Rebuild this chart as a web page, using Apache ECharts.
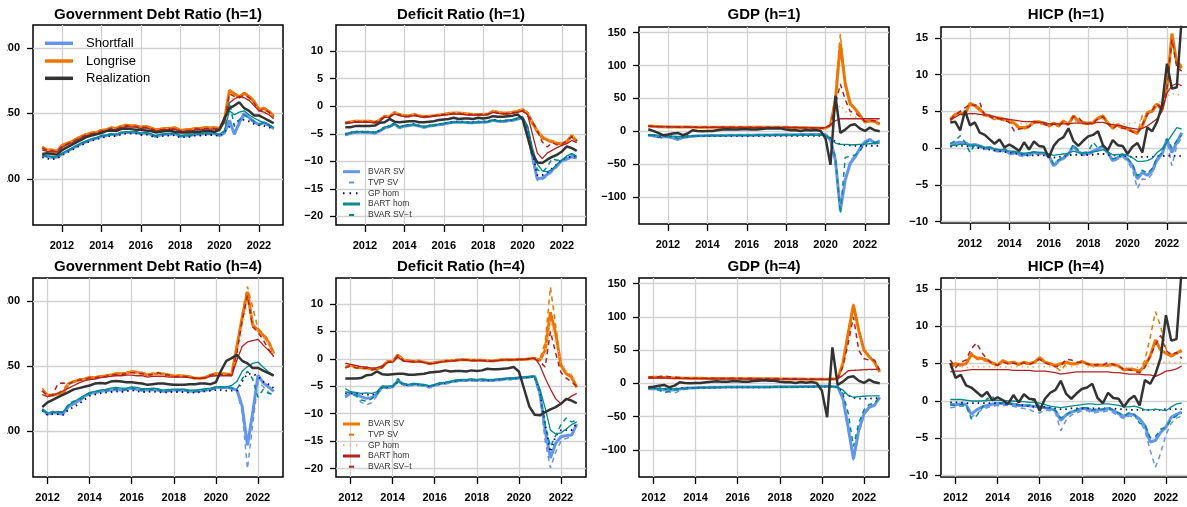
<!DOCTYPE html>
<html>
<head>
<meta charset="utf-8">
<script src="https://cdn.jsdelivr.net/npm/echarts@6/dist/echarts.min.js"></script>
<style>
html, body { margin: 0; padding: 0; background: #fff; overflow: hidden; width: 1187px; height: 507px; }
#frame { position: absolute; left: 7px; top: 0; width: 1180px; height: 507px; overflow: hidden; }
#chart { position: absolute; left: -14px; top: 0; width: 1204px; height: 507px; }
</style>
</head>
<body>
<div id="frame"><div id="chart"></div></div>
<script>
// Quarterly paths. h=1 panels run 2011Q1-2022Q4 (48 quarters), h=4 panels 2011Q4-2022Q4 (45 quarters).
const START_H1 = 2011;
const START_H4 = 2011.75;
const YEAR_TICKS = [2012, 2014, 2016, 2018, 2020, 2022];
const DEBT_TICKS = [100, 150, 200];
const DEFICIT_TICKS = [-20, -15, -10, -5, 0, 5, 10];
const GDP_TICKS = [-100, -50, 0, 50, 100, 150];
const HICP_TICKS = [-10, -5, 0, 5, 10, 15];
const MODELS = ['BVAR SV', 'TVP SV', 'GP hom', 'BART hom', 'BVAR SV\u2212t'];
const TITLES = ['Government Debt Ratio (h=1)', 'Deficit Ratio (h=1)', 'GDP (h=1)', 'HICP (h=1)',
                'Government Debt Ratio (h=4)', 'Deficit Ratio (h=4)', 'GDP (h=4)', 'HICP (h=4)'];

// realized values, 2011Q1-2022Q4
const DEBT_REAL = [119,119.5,119,118.5, 122,124,126,128, 130,132,133,134, 135,136.5,137,136.5, 138,138.5,138,137.5, 137.5,137,136.5,135.5, 136,136.5,136.5,136, 135.5,135.5,135.5,136, 136,136.5,136.5,136, 137.5,146.5,154,156, 158.5,154,152,148.5, 148.5,146.5,144.5,142.5];
const DEFICIT_REAL = [-3.8,-3.8,-3.6,-3.6, -3.6,-3.6,-3.5,-3.0, -2.9,-2.3,-2.8,-2.9, -2.8,-2.7,-2.7,-2.9, -2.9,-2.8,-2.7,-2.5, -2.4,-2.3,-2.1,-2.3, -2.2,-2.2,-2.3,-2.1, -2.2,-2.1,-1.8,-1.9, -1.9,-1.8,-1.7,-1.5, -2.3,-5.5,-8.7,-10.2, -10.3,-9.7,-9.2,-8.8, -8.2,-7.3,-7.6,-8.1];
const GDP_REAL = [3,0.5,-2.5,-6, -5,-3.5,-2.5,-6, -3.5,1.5,0.5,0, 0.5,0.5,1.5,2.5, 3,2.5,2.5,3, 3,2.5,2.5,3.5, 4,4.5,4,4, 2.5,1.5,1.5,0.5, 2,1,2,0.5, -11,-51,54,-2.5, 2.5,9,10.5,4, 0.5,5.5,1.5,0];
const HICP_REAL = [3.5,3.6,2.4,5.1, 3.1,3.5,2.1,1.8, 1.2,0.6,1.2,0.1, 0.5,0.1,-0.4,0.8, -0.2,0.9,0.3,0.2, -1.3,0.3,1.1,1.5, 2.7,1.0,0.3,1.0, 1.6,1.8,2.3,0.4, -0.3,1.1,0.4,0.3, -0.8,0.2,0.7,-0.6, 2.8,2.3,3.6,5.8, 11.5,8.1,8.3,17.8];

// Government debt ratio, h=1 (sf = shortfall, lr = longrise)
const DEBT_H1_SF_BVAR = [118,117,116.5,116.5, 119,121,123,125, 127,128.5,130,131, 132.5,133,134,133.5, 135,135.5,135.5,135.5, 134.5,135,134,132.5, 133.5,134,134,134.5, 132.5,133,133,134, 134,134.5,134.5,134.5, 133,135,144.5,134, 143,150,147,143.5, 141.5,143,141,138.5];
const DEBT_H1_SF_TVP = [118.5,117.5,116,117, 119.5,121.5,123.5,125.5, 127.5,129,130.5,131.5, 133,133.5,134.5,134, 135.5,136,136,136, 135,135.5,134.5,133, 134,134.5,134.5,135, 133,133.5,133.5,134.5, 134.5,135,135,135, 133.5,136,146,136, 141,148,146,143, 141,142.5,140.5,138];
const DEBT_H1_SF_GP = [116.5,115.5,115,115.5, 118,120,122,124, 126,127.5,129,130, 131.5,132,133,132.5, 134,134.5,134.5,134.5, 133.5,134,133,131.5, 132.5,133,133,133.5, 131.5,132,132,133, 133,133.5,133.5,133.5, 132.5,136,140,142, 145,145,144,142, 141,140.5,139.5,138];
const DEBT_H1_SF_BART = [118.5,117.5,117,117, 119.5,121.5,123.5,125.5, 127.5,129,130.5,131.5, 133,133.5,134.5,134, 135.5,136,136,136, 135,135.5,134.5,133, 134,134.5,134.5,135, 133,133.5,133.5,134.5, 134.5,135,135,135, 134,137,152,149, 151,152,149,146.5, 144.5,143,141.5,139];
const DEBT_H1_SF_SVT = [118,117,116.5,117, 119,121,123,125, 127,128.5,130,131, 132.5,133,134,133.5, 135,135.5,135.5,135.5, 134.5,135,134,132.5, 133.5,134,134,134.5, 132.5,133,133,134, 134,134.5,134.5,134.5, 133.5,136,159,140, 145,149,146,144, 142,142.5,141,139];
const DEBT_H1_LR_BVAR = [124,122,122,121, 125.5,127,128.5,130.5, 132.5,134,135,135.5, 137,137.5,139,138.5, 140,141,140.5,140.5, 139.5,140,139,137.5, 138,138.5,138.5,139, 137,137.5,137.5,138.5, 138.5,139,139,139, 138.5,145,167.5,165, 162.5,165.5,163,159, 153,154,151.5,148];
const DEBT_H1_LR_TVP = [124.5,122.5,122.5,121.5, 126,127.5,129,131, 133,134.5,135.5,136, 137.5,138,139.5,139, 140.5,141.5,141,141, 140,140.5,139.5,138, 138.5,139,139,139.5, 137.5,138,138,139, 139,139.5,139.5,139.5, 139,146,168,166, 163,166,164,160, 153.5,154.5,152,148.5];
const DEBT_H1_LR_GP = [123,121.5,121.5,120.5, 125,126.5,128,130, 132,133.5,134.5,135, 136.5,137,138.5,138, 139.5,140.5,140,140, 139,139.5,138.5,137, 137.5,138,138,138.5, 136.5,137,137,138, 138,138.5,138.5,138.5, 138,143,160,162, 162,162,160,157, 152.5,152,150,147.5];
const DEBT_H1_LR_BART = [122,121,120.5,120.5, 124,126,127.5,129.5, 131.5,133,134,134.5, 136,136.5,138,137.5, 139,140,139.5,139.5, 138.5,139,138,136.5, 137,137.5,137.5,138, 136,136.5,136.5,137.5, 137.5,138,138,138, 137.5,143,158,161, 163,162,160,156, 152,151,149,146];
const DEBT_H1_LR_SVT = [123.5,121.5,121.5,120.5, 125,126.5,128,130, 132,133.5,134.5,135, 136.5,137,138.5,138, 139.5,140.5,140,140, 139,139.5,138.5,137, 137.5,138,138,138.5, 136.5,137,137,138, 138,138.5,138.5,138.5, 138,144,165,163, 162,164,162,158, 152,153,151,147];

// Government debt ratio, h=4
const DEBT_H4_SF_BVAR = [116.5, 113,114,114,113.7, 119,121,123.5,126.5, 129,129.5,130.5,131, 131.5,132,131.5,132, 133,132,131.5,131.5, 132,131.5,130.5,131, 131.5,131.5,131.5,130.5, 130.5,131,131.5,132, 133.5,133.5,133.5,133, 131.5,119,89,114, 143,137,134,130.5];
const DEBT_H4_SF_TVP = [117, 113.5,114.5,113,112.5, 118,120.5,123,126, 128.5,129,130,130.5, 131,131.5,131,131.5, 132.5,131.5,131,131, 131.5,131,130,130.5, 131,131,131,130, 130,130.5,131,131.5, 133,133,133,132.5, 131,115,71,105, 138,134,130,127];
const DEBT_H4_SF_GP = [116, 112.5,113,113,112.5, 116.5,118.5,121,124, 127,128,129,129.5, 130,130.5,130,130.5, 131.5,130.5,130,130, 130.5,130,129.5,130, 130,130,130,129.5, 129.5,130,130.5,131, 131.5,131.5,131,131, 131,138,144,144, 142,138,136,133];
const DEBT_H4_SF_BART = [117, 114,114.5,115,115, 120,122.5,125,127.5, 129.5,130.5,131.5,132, 133,133.5,133,133, 134,133.5,132.5,132.5, 133,132.5,131.5,132, 132,132,132,131.5, 131.5,132,132.5,133, 134,134,134,135, 138,146,149.5,152, 153,149,145.5,143];
const DEBT_H4_SF_SVT = [116.5, 113.5,115,114.5,114, 121,123,124,126, 129,130,131,131.5, 131.5,132.5,131.5,132, 133,132,131.5,131.5, 132,131.5,130.5,131, 131.5,131.5,131.5,130.5, 130.5,131,131.5,132, 133.5,133.5,133.5,133, 132,140,146,140, 126,132,129,128];
const DEBT_H4_LR_BVAR = [131.5, 127.5,127.5,128.5,129, 136.5,138,139.3,139.8, 141.3,141,141.8,142.3, 143,144,144,144.4, 145.7,145,144.4,143, 143.8,143.8,143.8,143, 142.3,142.3,142.3,141.8, 140.5,140.5,141,143, 144,144,143.8,143, 165,187,207,181.5, 177.5,173.5,168.5,159.5];
const DEBT_H4_LR_TVP = [133, 128,128,129,132, 137,138.5,140,140.5, 141.5,141.5,142.5,143, 143.5,144.5,144.5,145, 146,145.5,145,143.5, 144.5,144.5,144,143.5, 142.5,143,142.5,142, 141,141,141.5,143.5, 144.5,144.5,144,143.5, 166,190,211,195, 179,175,170,160.5];
const DEBT_H4_LR_GP = [131, 127,127,128,128.5, 136,137.5,139,139.5, 141,140.5,141.5,142, 142.5,143.5,143.5,144, 145.3,144.5,144,142.5, 143.5,143.5,143.5,142.5, 142,142,142,141.5, 140,140,140.5,142.5, 143.5,143.5,143.5,142.5, 158,180,200,184, 176,172,167,159];
const DEBT_H4_LR_BART = [128, 126.5,127.5,129,131, 133,135,137,138.5, 139.5,140,141,141.5, 142,142.5,142.5,143, 143,142.5,142.5,141.5, 142,142,142,141.5, 141.5,141.5,141.5,141, 140.5,140.5,141,142, 142.5,142.5,142.5,142.5, 154.5,165,168.5,169.5, 170.5,166,162,157.5];
const DEBT_H4_LR_SVT = [131, 127,128,136.5,137, 136,138,139,139.5, 141,141,141.5,142, 143,143.5,143.5,144, 145,144.5,144,143, 143.5,145,143.5,143, 142,142,142,141.5, 140.5,140.5,141,143, 143.5,143.5,143.5,143, 160,185,204,180, 176,170,163,157];

// Deficit ratio, h=1
const DEFICIT_H1_SF_BVAR = [-5.2,-4.9,-4.7,-4.7, -4.7,-4.75,-4.85,-4.5, -3.9,-3.7,-3.2,-3.9, -3.6,-3.5,-3.35,-3.6, -3.8,-3.6,-3.5,-3.35, -3.2,-3.05,-2.9,-2.9, -2.9,-3.0,-3.0,-2.9, -2.9,-2.8,-2.55,-2.7, -2.75,-2.65,-2.55,-2.3, -2.1,-4.2,-9.1,-13.2, -13.0,-12.4,-11.6,-10.8, -9.8,-9.6,-9.1,-9.4];
const DEFICIT_H1_SF_TVP = [-5.3,-5.0,-4.8,-4.8, -4.8,-4.85,-4.95,-4.6, -4.0,-3.8,-3.3,-4.0, -3.7,-3.6,-3.45,-3.7, -3.9,-3.7,-3.6,-3.45, -3.3,-3.15,-3.0,-3.0, -3.0,-3.1,-3.1,-3.0, -3.0,-2.9,-2.65,-2.8, -2.85,-2.75,-2.65,-2.4, -2.2,-4.5,-9.6,-13.5, -13.3,-12.7,-11.9,-11.0, -10.0,-9.8,-9.3,-9.6];
const DEFICIT_H1_SF_GP = [-5.0,-4.8,-4.6,-4.6, -4.6,-4.6,-4.7,-4.4, -3.8,-3.6,-3.1,-3.8, -3.5,-3.4,-3.25,-3.5, -3.7,-3.5,-3.4,-3.25, -3.1,-2.95,-2.8,-2.8, -2.8,-2.9,-2.9,-2.8, -2.8,-2.7,-2.45,-2.6, -2.65,-2.55,-2.45,-2.2, -2.0,-4.0,-8.5,-12.5, -12.5,-12.0,-11.3,-10.5, -9.6,-9.4,-9.0,-9.2];
const DEFICIT_H1_SF_BART = [-5.0,-4.8,-4.6,-4.6, -4.6,-4.65,-4.75,-4.4, -3.8,-3.6,-3.2,-3.7, -3.5,-3.4,-3.3,-3.5, -3.7,-3.5,-3.4,-3.3, -3.1,-3.0,-2.9,-2.9, -2.9,-2.95,-2.95,-2.85, -2.85,-2.75,-2.5,-2.6, -2.6,-2.5,-2.4,-2.1, -2.0,-3.5,-7.5,-10.5, -11.7,-11.9,-11.5,-10.5, -9.8,-9.0,-8.6,-9.1];
const DEFICIT_H1_SF_SVT = [-5.1,-4.9,-4.7,-4.7, -4.7,-4.7,-4.8,-4.5, -3.9,-3.7,-3.3,-3.8, -3.6,-3.5,-3.4,-3.6, -3.8,-3.6,-3.5,-3.3, -3.2,-3.0,-2.9,-2.9, -2.9,-3.0,-3.0,-2.9, -2.9,-2.8,-2.6,-2.7, -2.7,-2.6,-2.5,-2.2, -2.0,-3.8,-8.0,-11.5, -12.0,-11.0,-9.5,-9.8, -9.7,-9.2,-8.6,-9.2];
const DEFICIT_H1_LR_BVAR = [-3.0,-2.85,-2.7,-2.7, -2.7,-2.7,-2.9,-2.5, -1.8,-1.9,-1.1,-1.5, -1.7,-1.7,-1.5,-1.7, -1.9,-1.8,-1.7,-1.6, -1.5,-1.3,-1.2,-1.2, -1.3,-1.4,-1.5,-1.5, -1.5,-1.4,-0.9,-1.1, -1.2,-1.2,-1.1,-0.9, -0.6,-1.2,-3.0,-4.5, -5.6,-6.1,-6.4,-6.7, -6.8,-6.4,-5.3,-6.4];
const DEFICIT_H1_LR_TVP = [-3.1,-2.9,-2.8,-2.8, -2.8,-2.8,-3.0,-2.6, -1.9,-2.0,-1.2,-1.6, -1.8,-1.8,-1.6,-1.8, -2.0,-1.9,-1.8,-1.7, -1.6,-1.4,-1.3,-1.3, -1.4,-1.5,-1.6,-1.6, -1.6,-1.5,-1.0,-1.2, -1.3,-1.3,-1.2,-1.0, -0.7,-1.4,-3.3,-4.8, -5.9,-6.3,-6.6,-6.9, -7.0,-6.5,-5.5,-6.6];
const DEFICIT_H1_LR_GP = [-2.9,-2.8,-2.6,-2.6, -2.6,-2.6,-2.8,-2.4, -1.7,-1.8,-1.0,-1.4, -1.6,-1.6,-1.4,-1.6, -1.8,-1.7,-1.6,-1.5, -1.4,-1.2,-1.1,-1.1, -1.2,-1.3,-1.4,-1.4, -1.4,-1.3,-0.8,-1.0, -1.1,-1.1,-1.0,-0.8, -0.5,-1.0,-2.7,-4.2, -5.3,-5.8,-6.2,-6.5, -6.6,-6.2,-5.2,-6.2];
const DEFICIT_H1_LR_BART = [-3.2,-3.0,-2.9,-2.9, -2.9,-2.9,-3.0,-2.7, -2.0,-2.0,-1.4,-1.7, -1.9,-1.9,-1.7,-1.9, -2.0,-1.9,-1.8,-1.7, -1.6,-1.5,-1.4,-1.4, -1.5,-1.6,-1.6,-1.6, -1.6,-1.5,-1.1,-1.3, -1.4,-1.4,-1.3,-1.1, -0.9,-1.5,-5.0,-8.5, -9.5,-8.5,-8.0,-7.5, -7.1,-6.8,-6.2,-6.6];
const DEFICIT_H1_LR_SVT = [-3.0,-2.9,-2.8,-2.8, -2.8,-2.8,-2.9,-2.5, -1.9,-1.9,-1.3,-1.6, -1.8,-1.8,-1.6,-1.8, -1.9,-1.8,-1.7,-1.6, -1.5,-1.4,-1.3,-1.3, -1.4,-1.5,-1.5,-1.5, -1.5,-1.4,-1.0,-1.2, -1.3,-1.3,-1.2,-1.0, -0.8,-1.6,-2.8,-4.5, -6.5,-7.4,-6.6,-7.0, -6.9,-6.2,-5.5,-6.3];

// Deficit ratio, h=4
const DEFICIT_H4_SF_BVAR = [-6.9, -6.2,-6.4,-6.9,-7.2, -7.1,-6.4,-5.1,-5.2, -5.1,-4.0,-4.6,-4.8, -4.6,-4.7,-4.8,-5.1, -4.8,-4.5,-4.4,-4.2, -4.0,-3.9,-3.9,-3.8, -3.9,-3.8,-3.9,-3.9, -3.8,-3.7,-3.6,-3.6, -3.45,-3.4,-3.3,-3.15, -6.3,-13.0,-18.1,-15.4, -14.2,-14.0,-13.9,-11.9];
const DEFICIT_H4_SF_TVP = [-7.1, -6.4,-6.8,-7.9,-8.4, -8.0,-6.8,-5.3,-5.4, -5.2,-4.2,-4.8,-5.0, -4.8,-4.9,-5.0,-5.3, -5.0,-4.7,-4.6,-4.4, -4.2,-4.1,-4.1,-4.0, -4.1,-4.0,-4.1,-4.1, -4.0,-3.9,-3.8,-3.8, -3.6,-3.5,-3.4,-3.3, -7.0,-15.0,-19.9,-17.0, -15.0,-14.5,-14.2,-12.3];
const DEFICIT_H4_SF_GP = [-6.3, -6.3,-6.3,-6.4,-6.5, -6.6,-6.2,-5.2,-5.2, -5.0,-4.2,-4.6,-4.8, -4.6,-4.7,-4.8,-5.0, -4.8,-4.5,-4.4,-4.2, -4.0,-3.9,-3.9,-3.8, -3.9,-3.8,-3.9,-3.9, -3.8,-3.7,-3.6,-3.6, -3.5,-3.4,-3.3,-3.2, -6.0,-12.0,-17.0,-14.0, -13.0,-13.0,-13.0,-11.8];
const DEFICIT_H4_SF_BART = [-5.4, -6.0,-6.1,-6.3,-6.2, -6.3,-6.0,-5.0,-5.0, -5.0,-4.1,-4.5,-4.7, -4.5,-4.6,-4.7,-4.9, -4.7,-4.4,-4.3,-4.1, -3.9,-3.8,-3.8,-3.7, -3.8,-3.7,-3.8,-3.8, -3.7,-3.6,-3.5,-3.5, -3.4,-3.3,-3.2,-3.2, -5.5,-9.0,-13.0,-13.7, -13.5,-12.8,-12.0,-11.5];
const DEFICIT_H4_SF_SVT = [-6.0, -6.2,-6.6,-7.5,-7.7, -7.3,-6.5,-5.2,-5.3, -5.0,-3.6,-4.5,-4.8, -4.6,-4.7,-4.8,-5.0, -4.8,-4.5,-4.4,-4.2, -4.0,-3.9,-3.9,-3.8, -3.9,-3.8,-3.9,-3.9, -3.8,-3.7,-3.6,-3.6, -3.5,-3.4,-3.3,-3.2, -6.0,-12.0,-16.0,-14.0, -12.0,-10.8,-11.5,-11.2];
const DEFICIT_H4_LR_BVAR = [-1.5, -1.15,-1.5,-1.6,-1.6, -1.9,-1.8,-1.5,-0.5, -0.5,0.7,-0.2,-0.35, -0.5,-0.4,-0.6,-0.85, -0.7,-0.55,-0.4,-0.35, -0.25,-0.15,-0.15,-0.25, -0.25,-0.25,-0.35,-0.4, -0.25,-0.15,-0.15,-0.15, -0.05,-0.1,0,0.05, -0.25,1.6,8.5,4.6, -1.15,-2.7,-3.3,-5.2];
const DEFICIT_H4_LR_TVP = [-1.7, -1.3,-1.7,-1.8,-1.8, -2.0,-1.9,-1.6,-0.6, -0.4,0.9,-0.1,-0.3, -0.5,-0.4,-0.6,-0.9, -0.7,-0.5,-0.4,-0.3, -0.2,-0.1,-0.1,-0.2, -0.2,-0.2,-0.3,-0.4, -0.2,-0.1,-0.1,-0.1, 0,-0.1,0.1,0.1, 0,3.0,13.1,6.0, -1.0,-2.5,-3.0,-5.0];
const DEFICIT_H4_LR_GP = [-1.4, -1.1,-1.4,-1.5,-1.5, -1.8,-1.7,-1.4,-0.4, -0.4,0.5,-0.2,-0.3, -0.4,-0.4,-0.5,-0.8, -0.6,-0.5,-0.4,-0.3, -0.2,-0.1,-0.1,-0.2, -0.2,-0.2,-0.3,-0.3, -0.2,-0.1,-0.1,-0.1, 0,0,0,0.1, -0.2,1.0,7.0,3.0, -0.5,-2.2,-2.8,-4.5];
const DEFICIT_H4_LR_BART = [-0.8, -1.0,-1.2,-1.4,-1.5, -1.7,-1.6,-1.3,-0.7, -0.6,0.3,-0.4,-0.5, -0.6,-0.5,-0.7,-0.9, -0.8,-0.6,-0.5,-0.4, -0.3,-0.2,-0.2,-0.3, -0.3,-0.3,-0.4,-0.4, -0.3,-0.2,-0.2,-0.2, -0.1,-0.1,0,0.2, -1.2,-3.5,-5.5,-7.3, -8.2,-7.5,-6.8,-6.3];
const DEFICIT_H4_LR_SVT = [-1.6, -1.3,-1.6,-1.7,-1.7, -2.0,-1.8,-1.6,-0.6, -0.5,0.6,-0.3,-0.4, -0.5,-0.5,-0.6,-0.9, -0.7,-0.6,-0.4,-0.4, -0.3,-0.2,-0.2,-0.3, -0.3,-0.3,-0.4,-0.4, -0.3,-0.2,-0.2,-0.2, -0.1,-0.1,0,0, -0.5,-1.5,5.0,1.0, -2.5,-3.5,-4.2,-5.0];

// GDP, h=1
const GDP_H1_SF_BVAR = [-6,-7,-8.5,-8.5, -8.5,-10,-12.5,-9.5, -8.5,-7.5,-7,-6.8, -6.6,-6.5,-6.3,-6.3, -6.2,-6.1,-6,-6, -6,-5.9,-5.8,-5.8, -5.7,-5.6,-5.5,-5.5, -5.5,-5.3,-5.2,-5.1, -5,-5,-5,-5, -5,-13.5,-44,-120, -74,-49,-39,-26, -16,-12.5,-18.5,-14.5];
const GDP_H1_SF_TVP = [-6.5,-7.5,-9,-9, -9,-10.5,-13,-10, -9,-8,-7.5,-7.3, -7,-7,-6.8,-6.8, -6.7,-6.6,-6.5,-6.5, -6.5,-6.4,-6.3,-6.3, -6.2,-6.1,-6,-6, -6,-5.8,-5.7,-5.6, -5.5,-5.5,-5.5,-5.5, -5.5,-15,-50,-125, -70,-45,-37,-25, -15,-12,-19,-15];
const GDP_H1_SF_GP = [-5.5,-6,-7,-7.5, -7.5,-8,-9,-8.5, -8,-7.5,-7,-7, -7,-7,-7,-7, -7,-7,-7,-7, -7,-7,-7,-7, -7,-7,-7,-7, -7,-7,-7,-7, -7,-7,-7,-7, -7,-10,-16,-20, -21,-21.5,-22,-22, -22,-22,-22,-22];
const GDP_H1_SF_BART = [-5,-5.5,-6,-6.5, -7,-7.5,-8,-8, -7.5,-7.5,-7,-7, -6.8,-6.7,-6.6,-6.5, -6.5,-6.4,-6.4,-6.3, -6.3,-6.2,-6.2,-6.1, -6.1,-6,-6,-6, -6,-6,-5.9,-5.9, -5.9,-5.9,-5.9,-6, -6,-12,-18,-20, -20,-20.5,-20.5,-20, -19.5,-19,-18.5,-18];
const GDP_H1_SF_SVT = [-6,-6.5,-9,-10, -8,-9,-11,-9, -8,-7.5,-7,-6.8, -6.6,-6.5,-6.3,-6.3, -6.2,-6.1,-6,-6, -6,-5.9,-5.8,-5.8, -5.7,-5.6,-5.5,-5.5, -5.5,-5.3,-5.2,-5.1, -5,-5,-5,-5, -5,-12,-40,-125, -40,-38,-36,-30, -18,-14,-17,-15];
const GDP_H1_LR_BVAR = [8,7.5,7,7, 6.6,6.6,6.5,6.5, 6.5,6.3,6.2,6.2, 6,6,6,6, 6,6,6,6, 6,6,6,6, 6,6,6,6, 6,5.8,5.6,5.4, 5.2,5,4.8,4.5, 5,9,47,133, 72,42,34,24, 14,16,15,10.5];
const GDP_H1_LR_TVP = [8.5,8,7.5,7.5, 7,7,7,7, 7,6.8,6.7,6.7, 6.5,6.5,6.5,6.5, 6.5,6.5,6.5,6.5, 6.5,6.5,6.5,6.5, 6.5,6.5,6.5,6.5, 6.5,6.3,6.1,5.9, 5.7,5.5,5.3,5, 5.5,10,55,148, 68,40,33,23, 14,15,15,11];
const GDP_H1_LR_GP = [7,7,6.8,6.8, 6.5,6.5,6.5,6.5, 6.4,6.3,6.2,6.2, 6,6,6,6, 6,6,6,6, 6,6,6,6, 6,6,6,6, 6,5.8,5.6,5.4, 5.2,5,4.8,4.5, 5,8,30,40, 30,25,22,20, 18,17,17,16];
const GDP_H1_LR_BART = [7.5,7.2,7,6.8, 6.6,6.5,6.4,6.3, 6.2,6.1,6,6, 5.9,5.8,5.8,5.7, 5.7,5.6,5.6,5.6, 5.5,5.5,5.5,5.5, 5.5,5.5,5.5,5.5, 5.5,5.4,5.4,5.3, 5.3,5.2,5.2,5.1, 5.5,10,16,19, 19,19,19,19, 19,19,19,19];
const GDP_H1_LR_SVT = [8,7.5,7.2,7, 6.8,6.8,6.6,6.5, 6.5,6.3,6.2,6.2, 6,6,6,6, 6,6,6,6, 6,6,6,6, 6,6,6,6, 6,5.8,5.6,5.4, 5.2,5,4.8,4.5, 5,9,40,72, 48,30,28,22, 15,16,16,12];

// GDP, h=4
const GDP_H4_SF_BVAR = [-8, -8,-8.5,-9.6,-10.6, -9.6,-8.5,-7.5,-7, -6.5,-6.3,-6.2,-6, -5.9,-5.8,-5.7,-5.6, -5.5,-5.5,-5.5,-5.5, -5.5,-5.5,-5.4,-5.3, -5.2,-5.1,-5,-5, -4.9,-4.8,-4.7,-4.6, -4.5,-4.5,-4.8,-5.5, -23,-66,-114,-71, -46,-36,-33,-21];
const GDP_H4_SF_TVP = [-9, -9,-9.5,-11,-13, -15,-11,-9,-8, -7,-6.8,-6.6,-6.4, -6.2,-6.1,-6,-5.9, -5.8,-5.8,-5.8,-5.8, -5.8,-5.8,-5.7,-5.6, -5.5,-5.4,-5.3,-5.3, -5.2,-5.1,-5,-4.9, -4.8,-4.8,-5,-6, -25,-70,-116,-75, -48,-37,-33,-22];
const GDP_H4_SF_GP = [-7, -7,-7.5,-8,-8.5, -8,-7.5,-7,-7, -6.8,-6.6,-6.5,-6.4, -6.3,-6.2,-6.1,-6, -6,-6,-6,-6, -6,-6,-5.9,-5.8, -5.7,-5.6,-5.5,-5.5, -5.4,-5.3,-5.2,-5.1, -5,-5,-5,-6, -12,-18,-22,-23, -23,-23,-22.5,-22];
const GDP_H4_SF_BART = [-6.5, -7,-7.5,-8,-8.5, -8.5,-8,-7.5,-7, -6.8,-6.6,-6.5,-6.4, -6.3,-6.2,-6.1,-6, -6,-6,-6,-6, -5.9,-5.8,-5.7,-5.6, -5.5,-5.4,-5.3,-5.2, -5.1,-5,-5,-4.9, -4.8,-4.8,-5,-5.5, -10,-18,-21,-20, -19.5,-19,-19,-19];
const GDP_H4_SF_SVT = [-7, -8,-10,-14.5,-12, -10,-9,-8,-7.5, -7,-6.8,-6.6,-6.4, -6.2,-6.1,-6,-5.9, -5.8,-5.8,-5.8,-5.8, -5.8,-5.8,-5.7,-5.6, -5.5,-5.4,-5.3,-5.3, -5.2,-5.1,-5,-4.9, -4.8,-4.8,-5,-5.5, -15,-45,-95,-60, -40,-32,-30,-20];
const GDP_H4_LR_BVAR = [8.6, 9,9,8.8,8.5, 8,8,7.8,7.8, 7.5,7.5,7.4,7.4, 7.3,7.3,7.2,7.2, 7,7,7,7, 6.9,6.9,6.8,6.8, 6.6,6.6,6.5,6.5, 6.4,6.3,6.2,6.1, 6,6,6.5,7, 30,75,118,80, 50,40,32,17];
const GDP_H4_LR_TVP = [9.5, 10,10,10.5,10, 9,8.8,8.5,8.3, 8,8,7.9,7.9, 7.8,7.8,7.7,7.7, 7.5,7.5,7.5,7.5, 7.4,7.4,7.3,7.3, 7.1,7.1,7,7, 6.9,6.8,6.7,6.6, 6.5,6.5,7,7.5, 32,78,120,82, 50,40,32,18];
const GDP_H4_LR_GP = [8, 8.5,8.5,8.3,8, 7.6,7.5,7.4,7.3, 7.2,7.1,7,7, 7,7,6.9,6.9, 6.8,6.8,6.8,6.8, 6.7,6.7,6.6,6.6, 6.5,6.5,6.4,6.4, 6.3,6.2,6.1,6, 5.9,5.9,6.2,6.5, 12,18,20,20, 20,20,20,20];
const GDP_H4_LR_BART = [7.5, 8,8,8,7.8, 7.5,7.4,7.3,7.2, 7.1,7,7,6.9, 6.8,6.8,6.7,6.7, 6.6,6.6,6.5,6.5, 6.4,6.4,6.3,6.3, 6.2,6.2,6.1,6.1, 6,6,5.9,5.9, 5.8,5.8,6,7, 12,19,19.5,20, 20.5,21,21,21.5];
const GDP_H4_LR_SVT = [9, 9.5,10,11,10, 9,8.5,8.2,8, 7.8,7.7,7.6,7.5, 7.4,7.4,7.3,7.3, 7.2,7.2,7.1,7.1, 7,7,6.9,6.9, 6.8,6.8,6.7,6.7, 6.6,6.5,6.4,6.3, 6.2,6.2,6.5,7, 25,60,100,50, 37,35,35,20];

// HICP, h=1
const HICP_H1_SF_BVAR = [0.5,0.7,0.8,0.7, 0.4,0.5,0.3,0, 0.1,-0.2,-0.4,-0.2, -0.7,-0.6,-0.8,-0.9, -0.8,-0.6,-0.7,-0.7, -1.0,-2.4,-1.7,-1.3, -0.8,0.3,-0.5,-0.8, -0.7,-0.4,-0.1,0.3, -0.6,-1.7,-1.3,-1.0, -1.5,-2.4,-4.2,-3.3, -3.7,-3.1,-1.5,-0.8, 1.2,-0.6,0.8,2.1];
const HICP_H1_SF_TVP = [0.3,0.5,0.6,0.5, 0.2,0.3,0.1,-0.2, -0.1,-0.4,-0.6,-0.4, -0.9,-0.8,-1.0,-1.2, -1.0,-0.8,-0.9,-0.9, -1.2,-2.6,-1.9,-1.5, -1.0,0.1,-0.7,-1.0, -0.9,-0.6,-0.3,0.1, -0.8,-1.9,-1.5,-1.2, -1.8,-3.0,-5.5,-4.2, -4.3,-3.5,-1.8,-1.0, 1.0,-2.4,0.3,1.5];
const HICP_H1_SF_GP = [0.2,0.3,0.3,0.3, 0.2,0.1,0,-0.1, -0.2,-0.3,-0.4,-0.5, -0.6,-0.7,-0.8,-0.9, -1.0,-1.0,-1.0,-1.0, -1.1,-1.3,-1.2,-1.1, -1.0,-0.9,-0.9,-1.0, -0.9,-0.9,-0.8,-0.8, -0.9,-1.0,-1.0,-1.1, -1.1,-1.2,-1.2,-1.2, -1.2,-1.2,-1.1,-1.1, -1.0,-1.1,-1.0,-1.1];
const HICP_H1_SF_BART = [0.3,0.4,0.5,0.5, 0.4,0.4,0.3,0.1, 0.1,-0.1,-0.2,-0.2, -0.4,-0.4,-0.6,-0.7, -0.6,-0.5,-0.6,-0.6, -0.8,-1.0,-0.9,-0.8, -0.7,-0.4,-0.6,-0.7, -0.6,-0.5,-0.4,-0.2, -0.5,-0.9,-0.9,-0.8, -1.0,-1.3,-1.8,-1.8, -1.7,-1.4,-0.6,-0.1, 0.8,1.8,2.8,2.6];
const HICP_H1_SF_SVT = [0.6,1.0,1.7,0.8, -0.6,0.5,0.2,0, 0.1,-0.1,-0.3,-0.1, -0.6,-0.5,-0.7,-0.8, -0.7,-0.5,-0.6,-0.6, -0.9,-2.2,-1.6,-1.2, -0.7,0.5,-0.3,-0.6, -0.5,0.8,0,0.3, -0.5,-1.5,-1.2,-0.9, -1.4,-2.2,-3.8,-3.0, -3.4,-2.8,-1.3,-0.6, 1.3,0,1.0,1.8];
const HICP_H1_LR_BVAR = [3.9,4.6,4.8,4.6, 6.1,5.8,5.3,4.6, 4.4,4.1,4.1,3.9, 3.7,3.4,2.8,2.8, 3.0,3.6,3.6,3.4, 3.1,3.4,3.1,3.7, 3.2,4.4,3.7,3.5, 3.4,3.5,4.1,4.4, 3.4,2.8,3.2,2.8, 2.7,2.3,2.1,3.0, 4.8,5.0,6.0,5.2, 8.2,15.6,11.6,10.9];
const HICP_H1_LR_TVP = [3.7,4.4,4.7,4.5, 5.9,5.6,5.1,4.4, 4.2,3.9,3.9,3.7, 3.5,3.2,2.6,2.6, 2.8,3.4,3.4,3.2, 2.9,3.2,2.9,3.5, 3.0,4.2,3.5,3.3, 3.2,3.3,3.9,4.2, 3.2,2.6,3.0,2.6, 2.5,2.1,1.9,4.5, 4.8,5.5,6.2,5.6, 9.0,15.0,12.0,11.2];
const HICP_H1_LR_GP = [4.2,4.4,4.5,4.5, 4.6,4.6,4.5,4.4, 4.3,4.1,4.0,3.9, 3.8,3.6,3.4,3.3, 3.3,3.4,3.4,3.4, 3.3,3.3,3.3,3.4, 3.4,3.6,3.6,3.5, 3.5,3.6,3.8,3.9, 3.6,3.4,3.4,3.3, 3.3,3.4,3.5,3.9, 4.5,5.2,6.0,6.5, 7.0,7.5,7.2,7.5];
const HICP_H1_LR_BART = [3.8,4.2,4.6,4.6, 4.7,4.7,4.6,4.5, 4.5,4.3,4.1,4.0, 3.9,3.8,3.7,3.6, 3.6,3.6,3.5,3.5, 3.3,3.3,3.3,3.3, 3.3,3.4,3.4,3.4, 3.4,3.4,3.5,3.5, 3.3,3.2,3.1,3.0, 2.8,2.7,2.6,2.7, 3.0,3.5,4.0,5.0, 7.5,8.5,8.8,8.5];
const HICP_H1_LR_SVT = [3.9,4.5,5.0,5.5, 6.0,5.8,6.2,4.4, 4.3,4.0,4.0,3.8, 3.5,2.3,2.6,2.7, 2.9,3.5,3.5,3.3, 3.0,3.3,3.0,3.6, 3.2,4.3,4.2,3.4, 3.3,3.4,4.0,4.3, 3.3,2.7,3.1,2.7, 2.6,2.2,2.0,3.2, 4.6,5.2,6.0,5.3, 8.0,14.8,11.0,10.5];

// HICP, h=4
const HICP_H4_SF_BVAR = [-0.45, -0.5,-0.4,-0.45,-1.8, -1.2,-0.8,-0.6,-0.45, -0.35,-0.35,-0.35,-0.45, -0.6,-0.6,-0.65,-0.7, -0.8,-0.9,-1.0,-1.3, -2.6,-1.9,-1.5,-1.3, -1.0,-1.0,-1.3,-1.2, -1.2,-1.0,-1.3,-1.7, -2.1,-1.7,-1.9,-2.4, -3.3,-5.5,-5.3,-4.2, -3.5,-2.2,-1.8,-1.5];
const HICP_H4_SF_TVP = [-0.9, -0.8,-0.7,-0.7,-2.2, -1.7,-1.2,-0.9,-0.7, -0.6,-0.6,-0.6,-0.7, -0.9,-1.0,-1.1,-1.5, -1.6,-1.2,-1.3,-1.6, -4.0,-2.6,-1.9,-1.6, -1.3,-1.3,-1.6,-1.5, -1.5,-1.3,-1.6,-2.0, -2.4,-2.0,-2.2,-2.6, -4.0,-6.6,-8.9,-7.0, -4.5,-3.0,-2.3,-2.0];
const HICP_H4_SF_GP = [-0.2, -0.2,-0.2,-0.3,-0.3, -0.3,-0.3,-0.3,-0.3, -0.3,-0.3,-0.4,-0.4, -0.5,-0.6,-0.7,-0.8, -0.8,-0.8,-0.9,-1.0, -1.1,-1.1,-1.0,-1.0, -1.0,-1.0,-1.0,-1.0, -1.0,-1.0,-1.0,-1.1, -1.1,-1.2,-1.2,-1.2, -1.2,-1.2,-1.2,-1.2, -1.1,-1.1,-1.1,-1.1];
const HICP_H4_SF_BART = [0.2, 0.2,0.2,0.1,0, 0,0,0.1,0.1, 0.1,0.1,0,0, -0.1,-0.1,-0.2,-0.2, -0.3,-0.5,-0.7,-0.8, -0.9,-0.8,-0.7,-0.6, -0.5,-0.4,-0.4,-0.5, -0.4,-0.4,-0.5,-0.6, -0.8,-0.8,-0.7,-0.9, -1.2,-1.2,-1.1,-1.2, -1.3,-0.8,-0.4,-0.3];
const HICP_H4_SF_SVT = [-0.5, -0.6,-0.5,-0.5,-2.4, -2.0,-1.0,0.3,0.6, -0.2,-0.3,-0.3,-0.4, -0.5,-0.6,-0.6,0.3, -0.8,-0.9,-1.0,-1.3, -2.3,-1.8,-1.4,-1.2, -0.9,-0.9,-1.2,-1.1, -1.1,-0.9,-1.2,-1.6, -2.0,-1.6,-1.8,-3.0, -3.2,-4.9,-4.8,-3.8, -3.5,-2.5,-2.0,-1.6];
const HICP_H4_LR_BVAR = [4.7, 5.0,4.9,5.0,6.2, 5.8,5.7,5.5,5.1, 4.8,5.4,5.1,5.2, 4.9,5.2,5.0,5.2, 5.8,5.2,5.0,4.7, 5.0,5.2,5.0,5.0, 5.3,5.0,4.8,4.8, 4.8,4.8,4.9,4.7, 4.2,4.3,4.2,4.0, 4.8,6.0,8.2,6.8, 6.4,6.0,6.4,6.8];
const HICP_H4_LR_TVP = [4.5, 4.8,4.7,4.9,6.5, 5.6,5.5,5.3,5.0, 4.7,5.3,5.0,5.1, 4.8,5.1,4.9,5.1, 5.6,5.1,4.9,4.6, 4.0,5.0,4.9,4.9, 5.2,4.9,4.7,4.7, 4.7,4.7,4.8,4.6, 4.1,4.2,4.1,3.9, 5.5,8.5,12.0,10.0, 7.0,6.2,6.5,6.6];
const HICP_H4_LR_GP = [4.6, 4.6,4.6,4.5,4.6, 4.6,4.6,4.6,4.6, 4.6,4.5,4.6,4.6, 4.6,4.6,4.5,4.6, 4.6,4.6,4.6,4.5, 4.6,4.6,4.6,4.6, 4.6,4.6,4.5,4.6, 4.6,4.6,4.6,4.6, 4.5,4.5,4.5,4.5, 4.5,4.7,5.0,5.2, 5.2,5.2,5.1,5.2];
const HICP_H4_LR_BART = [3.9, 4.0,4.0,4.1,4.2, 4.2,4.2,4.2,4.2, 4.2,4.2,4.2,4.1, 4.1,4.1,4.1,4.0, 4.0,4.0,3.9,3.8, 3.6,3.7,3.8,3.9, 3.9,3.9,3.9,3.9, 3.9,3.9,3.8,3.8, 3.7,3.6,3.6,3.6, 3.5,3.5,3.3,3.6, 4.0,4.1,4.3,4.7];
const HICP_H4_LR_SVT = [5.5, 4.5,5.2,5.5,7.0, 7.8,6.5,5.6,5.0, 4.8,5.2,5.0,5.1, 4.9,5.1,4.9,5.2, 5.6,5.1,4.9,4.6, 4.7,5.6,5.5,5.2, 5.2,5.0,4.8,4.9, 4.8,5.2,4.9,4.7, 4.2,4.2,4.0,3.8, 4.5,6.0,7.5,8.8, 6.8,6.2,6.5,5.7];

// ---------------------------------------------------------------------------
const FONT = '"Liberation Sans", Arial, Helvetica, sans-serif';
const OFF = 7;                       // canvas x = page x + 7
const SF_COLORS = ['#6495ED', '#6495ED', '#00008B', '#008B8B', '#008B8B'];
const LR_COLORS = ['#EE7600', '#EE7600', '#F5B07A', '#B22222', '#B22222'];
const WIDTHS = [3, 1.5, 1.8, 1.3, 1.5];
const DASHES = ['solid', [5, 4], [1.5, 4], 'solid', [5, 4]];

const panels = [
  { title: TITLES[0], real: DEBT_REAL, h: 1, ticks: DEBT_TICKS, ymin: 64.7, ymax: 217.6, left: 33, top: 25, height: 200,
    sf: [DEBT_H1_SF_BVAR, DEBT_H1_SF_TVP, DEBT_H1_SF_GP, DEBT_H1_SF_BART, DEBT_H1_SF_SVT],
    lr: [DEBT_H1_LR_BVAR, DEBT_H1_LR_TVP, DEBT_H1_LR_GP, DEBT_H1_LR_BART, DEBT_H1_LR_SVT] },
  { title: TITLES[1], real: DEFICIT_REAL, h: 1, ticks: DEFICIT_TICKS, ymin: -21.55, ymax: 14.75, left: 336, top: 25, height: 200,
    sf: [DEFICIT_H1_SF_BVAR, DEFICIT_H1_SF_TVP, DEFICIT_H1_SF_GP, DEFICIT_H1_SF_BART, DEFICIT_H1_SF_SVT],
    lr: [DEFICIT_H1_LR_BVAR, DEFICIT_H1_LR_TVP, DEFICIT_H1_LR_GP, DEFICIT_H1_LR_BART, DEFICIT_H1_LR_SVT] },
  { title: TITLES[2], real: GDP_REAL, h: 1, ticks: GDP_TICKS, ymin: -141, ymax: 158.5, left: 639, top: 27, height: 197,
    sf: [GDP_H1_SF_BVAR, GDP_H1_SF_TVP, GDP_H1_SF_GP, GDP_H1_SF_BART, GDP_H1_SF_SVT],
    lr: [GDP_H1_LR_BVAR, GDP_H1_LR_TVP, GDP_H1_LR_GP, GDP_H1_LR_BART, GDP_H1_LR_SVT] },
  { title: TITLES[3], real: HICP_REAL, h: 1, ticks: HICP_TICKS, ymin: -10.2, ymax: 16.5, left: 941, top: 27, height: 196,
    sf: [HICP_H1_SF_BVAR, HICP_H1_SF_TVP, HICP_H1_SF_GP, HICP_H1_SF_BART, HICP_H1_SF_SVT],
    lr: [HICP_H1_LR_BVAR, HICP_H1_LR_TVP, HICP_H1_LR_GP, HICP_H1_LR_BART, HICP_H1_LR_SVT] },
  { title: TITLES[4], real: DEBT_REAL, h: 4, ticks: DEBT_TICKS, ymin: 64.7, ymax: 217.6, left: 33, top: 278, height: 199,
    sf: [DEBT_H4_SF_BVAR, DEBT_H4_SF_TVP, DEBT_H4_SF_GP, DEBT_H4_SF_BART, DEBT_H4_SF_SVT],
    lr: [DEBT_H4_LR_BVAR, DEBT_H4_LR_TVP, DEBT_H4_LR_GP, DEBT_H4_LR_BART, DEBT_H4_LR_SVT] },
  { title: TITLES[5], real: DEFICIT_REAL, h: 4, ticks: DEFICIT_TICKS, ymin: -21.55, ymax: 14.75, left: 336, top: 278, height: 199,
    sf: [DEFICIT_H4_SF_BVAR, DEFICIT_H4_SF_TVP, DEFICIT_H4_SF_GP, DEFICIT_H4_SF_BART, DEFICIT_H4_SF_SVT],
    lr: [DEFICIT_H4_LR_BVAR, DEFICIT_H4_LR_TVP, DEFICIT_H4_LR_GP, DEFICIT_H4_LR_BART, DEFICIT_H4_LR_SVT] },
  { title: TITLES[6], real: GDP_REAL, h: 4, ticks: GDP_TICKS, ymin: -141, ymax: 158.5, left: 639, top: 278, height: 199,
    sf: [GDP_H4_SF_BVAR, GDP_H4_SF_TVP, GDP_H4_SF_GP, GDP_H4_SF_BART, GDP_H4_SF_SVT],
    lr: [GDP_H4_LR_BVAR, GDP_H4_LR_TVP, GDP_H4_LR_GP, GDP_H4_LR_BART, GDP_H4_LR_SVT] },
  { title: TITLES[7], real: HICP_REAL, h: 4, ticks: HICP_TICKS, ymin: -10.2, ymax: 16.5, left: 941, top: 278, height: 199,
    sf: [HICP_H4_SF_BVAR, HICP_H4_SF_TVP, HICP_H4_SF_GP, HICP_H4_SF_BART, HICP_H4_SF_SVT],
    lr: [HICP_H4_LR_BVAR, HICP_H4_LR_TVP, HICP_H4_LR_GP, HICP_H4_LR_BART, HICP_H4_LR_SVT] }
];

const PANEL_W = 250;
const minus = v => (v < 0 ? '\u2212' + Math.abs(v) : String(v));
const toPairs = (start, vals) => vals.map((v, i) => [start + i / 4, v]);

const grids = [], xAxes = [], yAxes = [], series = [], graphics = [];

panels.forEach((p, i) => {
  const start = p.h === 1 ? START_H1 : START_H4;
  const xmin = p.h === 1 ? 2010.53 : 2011.31;
  const xmax = p.h === 1 ? 2023.22 : 2023.19;
  grids.push({
    left: p.left + OFF, top: p.top, width: PANEL_W, height: p.height,
    show: true, borderColor: '#000', borderWidth: 1.5, backgroundColor: 'transparent',
    containLabel: false, outerBoundsMode: 'none'
  });
  xAxes.push({
    type: 'value', gridIndex: i, min: xmin, max: xmax, position: 'bottom',
    axisLine: { show: false, onZero: false },
    axisTick: { show: true, length: 7, lineStyle: { color: '#000', width: 1.3 }, customValues: YEAR_TICKS },
    axisLabel: { show: true, margin: 15, customValues: YEAR_TICKS, formatter: v => String(v),
                 fontSize: 11, fontWeight: 'bold', color: '#000', fontFamily: FONT },
    splitLine: { show: true, lineStyle: { color: '#D2D2D2', width: 1.3 } }
  });
  yAxes.push({
    type: 'value', gridIndex: i, min: p.ymin, max: p.ymax, position: 'left',
    axisLine: { show: false, onZero: false },
    axisTick: { show: true, length: 6, lineStyle: { color: '#000', width: 1.3 }, customValues: p.ticks },
    axisLabel: { show: true, margin: 13, customValues: p.ticks, formatter: minus,
                 fontSize: 11, fontWeight: 'bold', color: '#000', fontFamily: FONT },
    splitLine: { show: true, lineStyle: { color: '#D2D2D2', width: 1.3 } }
  });

  for (let m = 0; m < MODELS.length; m++) {
    [['sf', SF_COLORS], ['lr', LR_COLORS]].forEach(([side, colors]) => {
      series.push({
        type: 'line', name: MODELS[m] + ' ' + side, xAxisIndex: i, yAxisIndex: i,
        data: toPairs(start, p[side][m]), showSymbol: false, symbol: 'none', silent: true,
        lineStyle: { color: colors[m], width: WIDTHS[m], type: DASHES[m] },
        z: 2
      });
    });
  }
  const real = p.h === 1 ? p.real : p.real.slice(3);
  series.push({
    type: 'line', name: 'Realization', xAxisIndex: i, yAxisIndex: i,
    data: toPairs(start, real), showSymbol: false, symbol: 'none', silent: true,
    lineStyle: { color: '#333333', width: 2.5 }, z: 3
  });

  graphics.push({
    type: 'text', x: p.left + OFF + PANEL_W / 2, y: p.h === 1 ? 15 : 267, z: 10,
    style: { text: p.title, align: 'center', verticalAlign: 'middle', font: 'bold 15px ' + FONT, fill: '#000' }
  });
});

// main legend in the first panel
[['Shortfall', '#6495ED', 43.3], ['Longrise', '#EE7600', 61], ['Realization', '#333333', 78.3]].forEach(([label, color, y]) => {
  graphics.push({ type: 'line', z: 10, shape: { x1: 45 + OFF, y1: y, x2: 73 + OFF, y2: y },
    style: { stroke: color, lineWidth: 3.5 } });
  graphics.push({ type: 'text', z: 10, x: 86 + OFF, y: y,
    style: { text: label, verticalAlign: 'middle', font: '13px ' + FONT, fill: '#000' } });
});

// model legends in the deficit panels
function modelLegend(colors, rows) {
  MODELS.forEach((name, m) => {
    const y = rows[m];
    graphics.push({ type: 'line', z: 10, shape: { x1: 343 + OFF, y1: y, x2: 360 + OFF, y2: y },
      style: { stroke: colors[m], lineWidth: m === 0 || m === 3 ? 3 : 2,
               lineDash: DASHES[m] === 'solid' ? null : (m === 2 ? [1.5, 5] : [5, 6]),
               lineDashOffset: m === 2 ? 0 : -6 } });
    graphics.push({ type: 'text', z: 10, x: 368 + OFF, y: y,
      style: { text: name, verticalAlign: 'middle', font: '8.5px ' + FONT, fill: '#333' } });
  });
}
modelLegend(SF_COLORS, [171.7, 182.5, 193.3, 204, 215]);
modelLegend(LR_COLORS, [424, 434.7, 445.3, 456, 466.7]);

const chart = echarts.init(document.getElementById('chart'), null, { renderer: 'canvas' });
chart.setOption({
  animation: false,
  backgroundColor: '#fff',
  grid: grids,
  xAxis: xAxes,
  yAxis: yAxes,
  series: series,
  graphic: graphics
});
</script>
</body>
</html>
